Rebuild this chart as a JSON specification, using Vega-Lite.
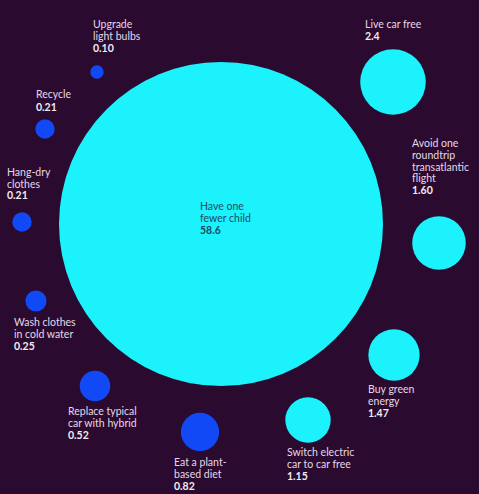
{
  "$schema": "https://vega.github.io/schema/vega-lite/v6.json",
  "width": 479,
  "height": 494,
  "autosize": {"type": "none"},
  "padding": 0,
  "background": "#2a0a2f",
  "config": {"view": {"stroke": null}},
  "data": {
    "values": [
      {"action": "Have one\nfewer child", "value": 58.6, "shown": "58.6", "cx": 221, "cy": 224, "lx": 200, "ny": 210, "vy": 234},
      {"action": "Live car free", "value": 2.4, "shown": "2.4", "cx": 393, "cy": 82, "lx": 365, "ny": 28, "vy": 40},
      {"action": "Avoid one\nroundtrip\ntransatlantic\nflight", "value": 1.6, "shown": "1.60", "cx": 439, "cy": 243, "lx": 412, "ny": 147, "vy": 194},
      {"action": "Buy green\nenergy", "value": 1.47, "shown": "1.47", "cx": 394, "cy": 355, "lx": 368, "ny": 393, "vy": 417},
      {"action": "Switch electric\ncar to car free", "value": 1.15, "shown": "1.15", "cx": 308, "cy": 420, "lx": 287, "ny": 456, "vy": 480},
      {"action": "Eat a plant-\nbased diet", "value": 0.82, "shown": "0.82", "cx": 200, "cy": 432, "lx": 174, "ny": 466, "vy": 490},
      {"action": "Replace typical\ncar with hybrid", "value": 0.52, "shown": "0.52", "cx": 95, "cy": 386, "lx": 68, "ny": 415, "vy": 439},
      {"action": "Wash clothes\nin cold water", "value": 0.25, "shown": "0.25", "cx": 36, "cy": 301, "lx": 14, "ny": 326, "vy": 350},
      {"action": "Hang-dry\nclothes", "value": 0.21, "shown": "0.21", "cx": 22, "cy": 222, "lx": 7, "ny": 176, "vy": 199},
      {"action": "Recycle", "value": 0.21, "shown": "0.21", "cx": 45, "cy": 129, "lx": 36, "ny": 98, "vy": 111},
      {"action": "Upgrade\nlight bulbs", "value": 0.1, "shown": "0.10", "cx": 97, "cy": 72, "lx": 93, "ny": 28, "vy": 52}
    ]
  },
  "layer": [
    {
      "mark": {"type": "circle", "opacity": 1},
      "encoding": {
        "x": {"field": "cx", "type": "quantitative", "scale": {"domain": [0, 479], "nice": false, "zero": false}, "axis": null},
        "y": {"field": "cy", "type": "quantitative", "scale": {"domain": [0, 494], "reverse": true, "nice": false, "zero": false}, "axis": null},
        "size": {"field": "value", "type": "quantitative", "scale": {"type": "linear", "domain": [0, 58.6], "range": [0, 104976], "nice": false}, "legend": null},
        "color": {"field": "value", "type": "quantitative", "scale": {"type": "threshold", "domain": [1], "range": ["#1149f7", "#1bf2fb"]}, "legend": null}
      }
    },
    {
      "mark": {"type": "text", "align": "left", "baseline": "alphabetic", "lineBreak": "\n", "lineHeight": 11.8, "font": "Lato", "fontSize": 10.5},
      "encoding": {
        "x": {"field": "lx", "type": "quantitative"},
        "y": {"field": "ny", "type": "quantitative"},
        "text": {"field": "action"},
        "color": {"condition": {"test": "datum.value > 50", "value": "#1f4a66"}, "value": "#e6d8e8"}
      }
    },
    {
      "mark": {"type": "text", "align": "left", "baseline": "alphabetic", "font": "Lato", "fontSize": 10.5, "fontWeight": "bold"},
      "encoding": {
        "x": {"field": "lx", "type": "quantitative"},
        "y": {"field": "vy", "type": "quantitative"},
        "text": {"field": "shown"},
        "color": {"condition": {"test": "datum.value > 50", "value": "#1f4a66"}, "value": "#f2eaf3"}
      }
    }
  ]
}
